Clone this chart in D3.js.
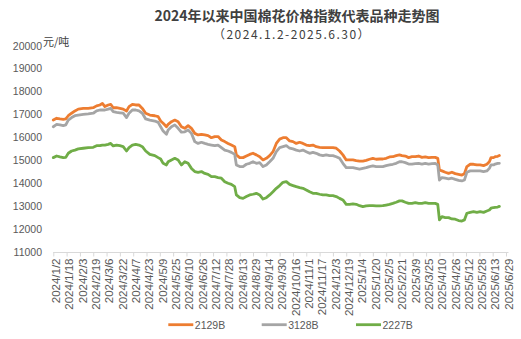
<!DOCTYPE html>
<html><head><meta charset="utf-8">
<script src="https://cdn.jsdelivr.net/npm/d3@7"></script>
<style>body{margin:0;background:#fff}svg{display:block}</style>
</head><body><svg id="c" width="521" height="339"></svg>
<script>
const titleText = "2024年以来中国棉花价格指数代表品种走势图";
const subtitleText = "（2024.1.2-2025.6.30）";
const unitText = "元/吨";
const seriesNames = ["2129B", "3128B", "2227B"];
const seriesColors = ["#ED7D31", "#A5A5A5", "#70AD47"];
const yTicks = [11000, 12000, 13000, 14000, 15000, 16000, 17000, 18000, 19000, 20000];
const xTickLabels = ["2024/1/2","2024/1/18","2024/2/3","2024/2/19","2024/3/6","2024/3/22","2024/4/7","2024/4/23","2024/5/9","2024/5/25","2024/6/10","2024/6/26","2024/7/12","2024/7/28","2024/8/13","2024/8/29","2024/9/14","2024/9/30","2024/10/16","2024/11/1","2024/11/17","2024/12/3","2024/12/19","2025/1/4","2025/1/20","2025/2/5","2025/2/21","2025/3/9","2025/3/25","2025/4/10","2025/4/26","2025/5/12","2025/5/28","2025/6/13","2025/6/29"];

const dates = [
"2024-01-02","2024-01-06","2024-01-10","2024-01-14","2024-01-17","2024-01-20","2024-01-24","2024-01-28","2024-02-01","2024-02-07","2024-02-13","2024-02-19","2024-02-23","2024-02-27","2024-03-01","2024-03-04","2024-03-08","2024-03-11","2024-03-14","2024-03-18","2024-03-22","2024-03-26","2024-03-30","2024-04-02","2024-04-06","2024-04-10","2024-04-14","2024-04-18","2024-04-22","2024-04-27","2024-05-03","2024-05-07","2024-05-10","2024-05-13","2024-05-17",
"2024-05-19","2024-05-23","2024-05-27","2024-05-31","2024-06-04","2024-06-08","2024-06-12","2024-06-16","2024-06-20","2024-06-24","2024-06-28","2024-07-02","2024-07-06","2024-07-10","2024-07-14","2024-07-18","2024-07-22","2024-07-26","2024-07-30","2024-08-03","2024-08-07","2024-08-09","2024-08-13","2024-08-17","2024-08-21","2024-08-25","2024-08-29","2024-09-02","2024-09-06","2024-09-10","2024-09-14","2024-09-18","2024-09-22","2024-09-26","2024-09-30","2024-10-04",
"2024-10-08","2024-10-12","2024-10-16","2024-10-20","2024-10-24","2024-10-28","2024-11-01","2024-11-05","2024-11-09","2024-11-13","2024-11-17","2024-11-21","2024-11-25","2024-11-29","2024-12-03","2024-12-07","2024-12-11","2024-12-15","2024-12-19","2024-12-23","2024-12-27","2024-12-31","2025-01-04","2025-01-08","2025-01-12","2025-01-16","2025-01-20","2025-01-24","2025-01-28","2025-02-01","2025-02-05","2025-02-09","2025-02-13","2025-02-17","2025-02-21",
"2025-02-24","2025-02-28","2025-03-04","2025-03-08","2025-03-12","2025-03-16","2025-03-20","2025-03-24","2025-03-28","2025-04-01","2025-04-05","2025-04-08","2025-04-10","2025-04-13","2025-04-17","2025-04-21","2025-04-25","2025-04-29","2025-05-03","2025-05-07","2025-05-10","2025-05-13","2025-05-17","2025-05-21","2025-05-25","2025-05-29","2025-06-02","2025-06-06","2025-06-09","2025-06-11","2025-06-14","2025-06-16","2025-06-19","2025-06-21"
];

const s2129B = [
16750,16830,16800,16780,16800,16940,17050,17150,17230,17260,17260,17290,17370,17410,17480,17340,17410,17440,17290,17290,17260,17230,17150,17340,17440,17410,17410,17260,17050,16970,16940,16900,16710,16610,16460,
16560,16680,16750,16680,16460,16390,16510,16390,16170,16100,16130,16100,16070,15980,16030,16030,15880,15810,15730,15660,15590,15230,15110,15110,15180,15250,15300,15230,15150,15010,15080,15200,15370,15730,15920,15980,
15980,15840,15810,15730,15780,15730,15660,15630,15660,15590,15560,15550,15550,15550,15550,15520,15400,15230,15010,15010,15010,14980,14960,14960,14990,15040,15080,15040,15050,15050,15080,15140,15150,15200,15230,
15200,15180,15110,15150,15150,15180,15120,15140,15110,15120,15120,15080,14570,14530,14470,14420,14470,14410,14380,14350,14410,14720,14820,14820,14790,14790,14760,14820,14930,15110,15110,15150,15170,15200
];
const s3128B = [
16460,16560,16540,16510,16540,16750,16860,16940,16970,17000,17020,17050,17150,17190,17190,17190,17230,17260,17120,17090,17070,17050,16860,17050,17190,17190,17150,17050,16800,16750,16710,16650,16460,16270,16130,
16320,16460,16540,16390,16220,16240,16320,16170,15810,15730,15780,15730,15690,15660,15630,15660,15550,15440,15400,15340,15250,14790,14720,14720,14820,14860,14930,14860,14890,14720,14790,14930,15080,15370,15550,15590,
15630,15520,15490,15440,15400,15440,15370,15300,15340,15300,15230,15200,15230,15200,15200,15150,15080,14860,14670,14670,14670,14640,14610,14640,14670,14720,14750,14720,14720,14720,14760,14790,14820,14860,14930,
14930,14890,14830,14830,14850,14860,14830,14860,14830,14850,14860,14790,14130,14240,14210,14180,14210,14160,14120,14090,14130,14470,14530,14530,14530,14530,14500,14530,14640,14790,14790,14830,14860,14860
];
const s2227B = [
15110,15180,15140,15110,15120,15300,15400,15440,15490,15520,15550,15560,15630,15630,15660,15660,15690,15730,15620,15660,15630,15590,15400,15550,15660,15690,15660,15590,15400,15250,15200,15110,15050,14860,14790,
14930,15010,15080,15010,14790,14930,14860,14640,14500,14470,14500,14420,14380,14280,14280,14240,14210,14060,13990,13940,13840,13480,13360,13330,13410,13480,13510,13550,13480,13300,13360,13480,13620,13770,13890,14030,
14060,13940,13890,13840,13800,13770,13700,13620,13550,13550,13510,13480,13480,13450,13450,13410,13330,13260,13070,13070,13090,13070,13010,12970,13000,13010,13010,13000,13000,13010,13040,13070,13110,13160,13220,
13220,13160,13110,13110,13140,13110,13110,13140,13110,13110,13110,13070,12390,12530,12490,12490,12430,12420,12360,12340,12390,12680,12720,12750,12720,12750,12720,12780,12820,12900,12930,12940,12950,12980
];

const seriesValues = [s2129B, s3128B, s2227B];
const parseD = d3.timeParse("%Y-%m-%d");
const parseT = d3.timeParse("%Y/%m/%d");
const dateObjs = dates.map(parseD);
const tickDates = xTickLabels.map(parseT);

const svg = d3.select("#c");
const x = d3.scaleTime().domain([tickDates[0], tickDates[tickDates.length - 1]]).range([53.3, 506]);
const y = d3.scaleLinear().domain([11000, 20000]).range([251.7, 45.7]);

const textCol = "#595959";
const latin = "'Liberation Sans', Arial, sans-serif";
const cjk = "'Noto Sans CJK SC', sans-serif";

// title
svg.append("text").attr("x", 297).attr("y", 20.5).attr("text-anchor", "middle")
  .attr("font-family", cjk).attr("font-weight", "bold").attr("font-size", 14)
  .attr("fill", "#404040").text(titleText);
svg.append("text").attr("x", 292).attr("y", 33.8).attr("text-anchor", "middle")
  .attr("dominant-baseline", "central")
  .attr("font-family", cjk).attr("font-size", 12).attr("letter-spacing", 1.5)
  .attr("fill", "#404040").text(subtitleText);

// y axis labels
const yAxis = d3.axisLeft(y).tickValues(yTicks).tickSize(0).tickPadding(0).tickFormat(d3.format("d"));
const gy = svg.append("g").attr("transform", "translate(42,0)").call(yAxis);
gy.select(".domain").remove();
gy.selectAll("text").attr("font-family", latin).attr("font-size", 10.5).attr("fill", textCol);

// unit label
svg.append("text").attr("x", 43).attr("y", 41).attr("dominant-baseline", "central")
  .attr("font-family", cjk).attr("font-size", 11).attr("fill", "#404040").text(unitText);

// x axis
const xAxis = d3.axisBottom(x).tickValues(tickDates).tickSize(4.5).tickPadding(0)
  .tickFormat((d, i) => xTickLabels[i]);
const gx = svg.append("g").attr("transform", "translate(0,252)").call(xAxis);
gx.select(".domain").attr("stroke", "#D9D9D9").attr("d", "M53.3,0.5H508.5");
gx.selectAll(".tick line").attr("stroke", "#D9D9D9");
gx.selectAll(".tick text")
  .attr("font-family", latin).attr("font-size", 11.5).attr("fill", textCol)
  .attr("text-anchor", "end").attr("dy", null)
  .attr("transform", "translate(2.3,6.5) rotate(-90)")
  .attr("x", 0).attr("y", 0)
  .attr("dominant-baseline", "central");

// lines
const line = d3.line().x((d, i) => x(dateObjs[i])).y(d => y(d));
seriesValues.forEach((vals, k) => {
  svg.append("path").datum(vals).attr("d", line)
    .attr("fill", "none").attr("stroke", seriesColors[k]).attr("stroke-width", 2.8)
    .attr("stroke-linejoin", "round").attr("stroke-linecap", "round");
});

// legend
const legendX = [168.3, 261.7, 356];
const lg = svg.append("g");
seriesNames.forEach((n, k) => {
  lg.append("line").attr("x1", legendX[k]).attr("x2", legendX[k] + 25)
    .attr("y1", 324.7).attr("y2", 324.7).attr("stroke", seriesColors[k]).attr("stroke-width", 2.8);
  lg.append("text").attr("x", legendX[k] + 26.5).attr("y", 324.7).attr("dominant-baseline", "central")
    .attr("font-family", latin).attr("font-size", 10.5).attr("fill", textCol).text(n);
});
</script></body></html>
